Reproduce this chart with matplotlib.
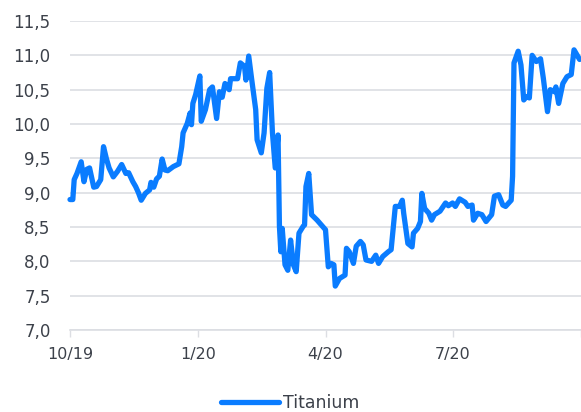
import pandas as pd
import matplotlib
matplotlib.use("Agg")
import matplotlib.pyplot as plt

# titanium price
dates = [
    "2019-10-01", "2019-10-03", "2019-10-04", "2019-10-06", "2019-10-09", "2019-10-11",
    "2019-10-13", "2019-10-15", "2019-10-18", "2019-10-20", "2019-10-23", "2019-10-25",
    "2019-10-27", "2019-10-29", "2019-11-01", "2019-11-04", "2019-11-07", "2019-11-10",
    "2019-11-12", "2019-11-15", "2019-11-17", "2019-11-19", "2019-11-21", "2019-11-24",
    "2019-11-27", "2019-11-28", "2019-11-30", "2019-12-02", "2019-12-04", "2019-12-06",
    "2019-12-08", "2019-12-10", "2019-12-14", "2019-12-18", "2019-12-20", "2019-12-21",
    "2019-12-24", "2019-12-26", "2019-12-27", "2019-12-28", "2019-12-30", "2020-01-02",
    "2020-01-03", "2020-01-06", "2020-01-09", "2020-01-11", "2020-01-14", "2020-01-16",
    "2020-01-18", "2020-01-20", "2020-01-23", "2020-01-24", "2020-01-29", "2020-01-31",
    "2020-02-03", "2020-02-04", "2020-02-06", "2020-02-08", "2020-02-11", "2020-02-12",
    "2020-02-15", "2020-02-17", "2020-02-19", "2020-02-21", "2020-02-23", "2020-02-25",
    "2020-02-27", "2020-02-28", "2020-02-29", "2020-03-01", "2020-03-03", "2020-03-05",
    "2020-03-07", "2020-03-09", "2020-03-11", "2020-03-13", "2020-03-16", "2020-03-17",
    "2020-03-18", "2020-03-20", "2020-03-22", "2020-03-26", "2020-03-29", "2020-04-01",
    "2020-04-03", "2020-04-05", "2020-04-07", "2020-04-08", "2020-04-11", "2020-04-15",
    "2020-04-16", "2020-04-18", "2020-04-21", "2020-04-23", "2020-04-26", "2020-04-28",
    "2020-04-30", "2020-05-04", "2020-05-07", "2020-05-09", "2020-05-12", "2020-05-16",
    "2020-05-18", "2020-05-20", "2020-05-21", "2020-05-24", "2020-05-26", "2020-05-27",
    "2020-05-30", "2020-06-02", "2020-06-03", "2020-06-06", "2020-06-08", "2020-06-09",
    "2020-06-11", "2020-06-14", "2020-06-16", "2020-06-18", "2020-06-22", "2020-06-26",
    "2020-06-28", "2020-07-01", "2020-07-03", "2020-07-06", "2020-07-10", "2020-07-12",
    "2020-07-15", "2020-07-16", "2020-07-19", "2020-07-22", "2020-07-25", "2020-07-29",
    "2020-07-31", "2020-08-03", "2020-08-06", "2020-08-08", "2020-08-12", "2020-08-13",
    "2020-08-14", "2020-08-17", "2020-08-19", "2020-08-21", "2020-08-23", "2020-08-25",
    "2020-08-27", "2020-08-30", "2020-09-02", "2020-09-04", "2020-09-07", "2020-09-09",
    "2020-09-12", "2020-09-13", "2020-09-15", "2020-09-18", "2020-09-21", "2020-09-24",
    "2020-09-26", "2020-09-30",
]
titanium = [
    8.90, 8.90, 9.19, 9.28, 9.45, 9.16,
    9.34, 9.36, 9.08, 9.09, 9.19, 9.67,
    9.50, 9.36, 9.23, 9.31, 9.41, 9.28,
    9.29, 9.16, 9.09, 9.00, 8.89, 8.99,
    9.04, 9.15, 9.08, 9.20, 9.24, 9.49,
    9.33, 9.32, 9.38, 9.42, 9.67, 9.87,
    10.01, 10.16, 9.99, 10.30, 10.43, 10.70,
    10.04, 10.21, 10.50, 10.54, 10.08, 10.47,
    10.39, 10.59, 10.50, 10.66, 10.66, 10.89,
    10.84, 10.64, 10.99, 10.67, 10.21, 9.77,
    9.58, 9.87, 10.52, 10.75, 9.87, 9.36,
    9.84, 8.51, 8.14, 8.48, 7.95, 7.87,
    8.31, 7.95, 7.85, 8.41, 8.51, 8.53,
    9.09, 9.28, 8.68, 8.60, 8.53, 8.46,
    7.92, 7.97, 7.95, 7.64, 7.75, 7.80,
    8.19, 8.14, 7.97, 8.22, 8.29, 8.24,
    8.02, 8.00, 8.09, 7.97, 8.07, 8.14,
    8.17, 8.60, 8.80, 8.80, 8.89, 8.70,
    8.26, 8.21, 8.41, 8.48, 8.58, 8.99,
    8.77, 8.70, 8.60, 8.68, 8.73, 8.85,
    8.81, 8.85, 8.80, 8.91, 8.86, 8.80,
    8.82, 8.60, 8.70, 8.68, 8.58, 8.68,
    8.95, 8.97, 8.82, 8.80, 8.89, 9.24,
    10.89, 11.06, 10.86, 10.35, 10.40, 10.38,
    11.00, 10.91, 10.95, 10.67, 10.18, 10.50,
    10.47, 10.54, 10.30, 10.59, 10.69, 10.72,
    11.08, 10.94,
]
tick_dates = ["2019-10-01", "2020-01-01", "2020-04-01", "2020-07-01", "2020-10-01"]
tick_labels = ["10/19", "1/20", "4/20", "7/20", ""]
y_ticks = [7.0, 7.5, 8.0, 8.5, 9.0, 9.5, 10.0, 10.5, 11.0, 11.5]

plt.rcParams['font.family'] = ['DejaVu Sans']
text_col = "#3c414a"
grid_col = "#dcdee3"

fig = plt.figure(figsize=(5.81, 4.12), dpi=100)
ax = fig.add_axes([0.1205, 0.199, 0.8795, 0.75])

x = pd.to_datetime(dates)
ax.plot(x, titanium, color="#0a7cff", lw=3.8, solid_joinstyle="round",
        solid_capstyle="round", label="Titanium", clip_on=False)

ax.set_ylim(7.0, 11.5)
ax.set_yticks(y_ticks)
ax.set_yticklabels([f"{v:.1f}".replace(".", ",") for v in y_ticks])
ax.set_xlim(pd.Timestamp("2019-10-01"), pd.Timestamp("2020-10-01"))
ax.set_xticks(pd.to_datetime(tick_dates))
ax.set_xticklabels(tick_labels)

ax.grid(axis="y", color=grid_col, lw=1.2)
ax.set_axisbelow(True)
for s in ["top", "right", "left"]:
    ax.spines[s].set_visible(False)
ax.spines["bottom"].set_color(grid_col)
ax.spines["bottom"].set_linewidth(1.2)
ax.tick_params(axis="y", length=0, pad=14, labelsize=12, labelcolor=text_col)
ax.tick_params(axis="x", length=5, width=1, color=grid_col, pad=7,
               labelsize=11.5, labelcolor=text_col)

fig.legend(loc="center", bbox_to_anchor=(0.5, 0.022), frameon=False,
           handlelength=3.3, handletextpad=0.25, fontsize=12.5, labelcolor=text_col)

fig.savefig("out.png", dpi=100)
